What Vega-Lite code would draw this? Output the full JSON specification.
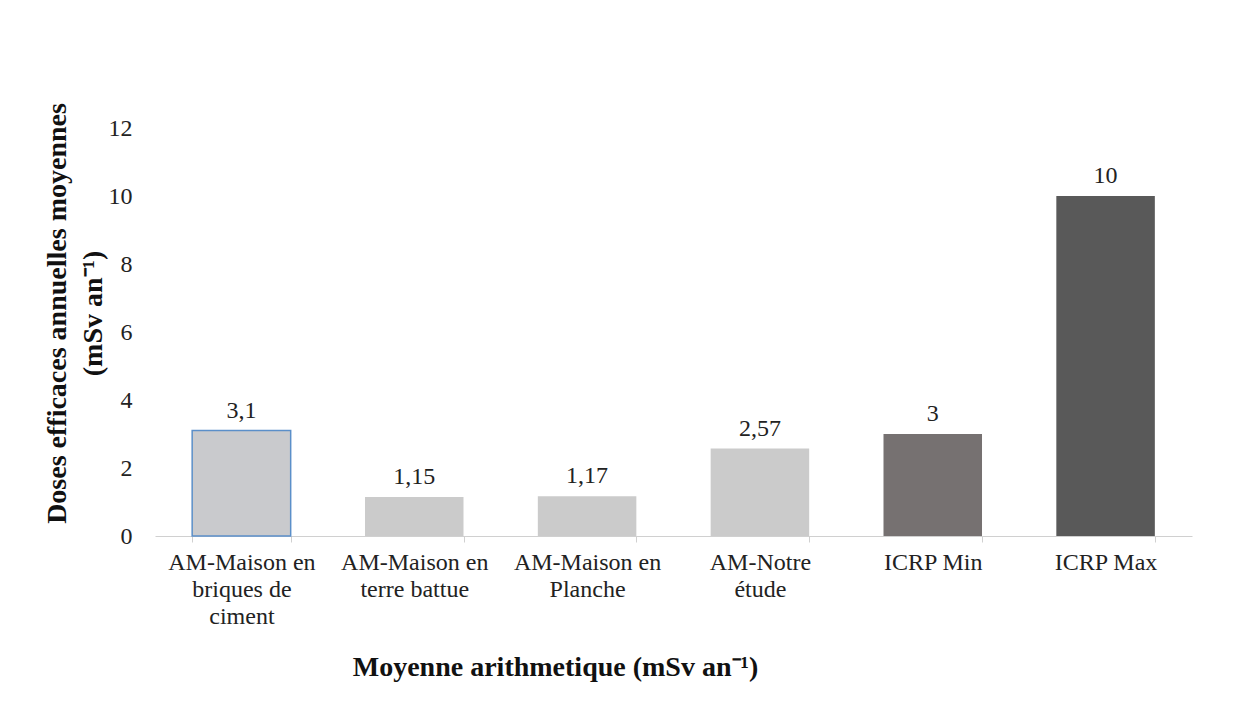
{
  "$schema": "https://vega.github.io/schema/vega-lite/v6.json",
  "width": 1037,
  "height": 408,
  "autosize": {"type": "none"},
  "padding": {"left": 155, "top": 128, "right": 50, "bottom": 175},
  "background": "white",
  "config": {
    "view": {"stroke": null},
    "font": "Times New Roman, Liberation Serif, serif",
    "locale": {"number": {"decimal": ",", "thousands": " ", "grouping": [3], "currency": ["", " €"]}}
  },
  "data": {
    "values": [
      {"categorie": "AM-Maison en|briques de|ciment", "dose": 3.1, "groupe": "b1"},
      {"categorie": "AM-Maison en|terre battue", "dose": 1.15, "groupe": "am"},
      {"categorie": "AM-Maison en|Planche", "dose": 1.17, "groupe": "am"},
      {"categorie": "AM-Notre|étude", "dose": 2.57, "groupe": "am"},
      {"categorie": "ICRP Min", "dose": 3, "groupe": "min"},
      {"categorie": "ICRP Max", "dose": 10, "groupe": "max"}
    ]
  },
  "encoding": {
    "x": {
      "field": "categorie",
      "type": "nominal",
      "sort": null,
      "scale": {"paddingInner": 0.43, "paddingOuter": 0.215},
      "axis": {
        "labelExpr": "datum.value ? split(datum.value, '|') : ''",
        "labelAngle": 0,
        "labelFont": "Times New Roman, Liberation Serif, serif",
        "labelFontSize": 24,
        "labelLineHeight": 27,
        "labelColor": "#222222",
        "labelPadding": 8,
        "labelBaseline": "top",
        "domainColor": "#d0d0d0",
        "tickColor": "#d0d0d0",
        "tickBand": "extent",
        "tickSize": 6,
        "title": "Moyenne arithmetique (mSv an⁻¹)",
        "titleFont": "Times New Roman, Liberation Serif, serif",
        "titleFontSize": 28,
        "titleFontWeight": "bold",
        "titleColor": "#111111",
        "titleX": 400,
        "titleY": 139,
        "titleBaseline": "alphabetic",
        "titleAlign": "center"
      }
    },
    "y": {
      "field": "dose",
      "type": "quantitative",
      "scale": {"domain": [0, 12], "nice": false},
      "axis": {
        "values": [0, 2, 4, 6, 8, 10, 12],
        "grid": false,
        "domain": false,
        "ticks": false,
        "labelFont": "Times New Roman, Liberation Serif, serif",
        "labelFontSize": 24,
        "labelColor": "#222222",
        "labelPadding": 23,
        "title": ["Doses efficaces annuelles moyennes", "(mSv an⁻¹)"],
        "titleFont": "Times New Roman, Liberation Serif, serif",
        "titleFontSize": 28,
        "titleFontWeight": "bold",
        "titleColor": "#111111",
        "titleAngle": -90,
        "titleAlign": "center",
        "titleBaseline": "alphabetic",
        "titleLineHeight": 36,
        "titleX": -90,
        "titleY": 185
      }
    }
  },
  "layer": [
    {
      "mark": {"type": "bar", "strokeWidth": 1.5},
      "encoding": {
        "color": {
          "field": "groupe",
          "type": "nominal",
          "scale": {"domain": ["b1", "am", "min", "max"], "range": ["#c9cacd", "#cbcbcb", "#767171", "#595959"]},
          "legend": null
        },
        "stroke": {
          "condition": {"test": "datum.groupe === 'b1'", "value": "#5b8fc9"},
          "value": null
        }
      }
    },
    {
      "mark": {"type": "text", "baseline": "alphabetic", "dy": -13, "fontSize": 24, "color": "#222222", "font": "Times New Roman, Liberation Serif, serif"},
      "encoding": {
        "text": {"field": "dose", "type": "quantitative", "format": ".2~f"}
      }
    }
  ]
}
